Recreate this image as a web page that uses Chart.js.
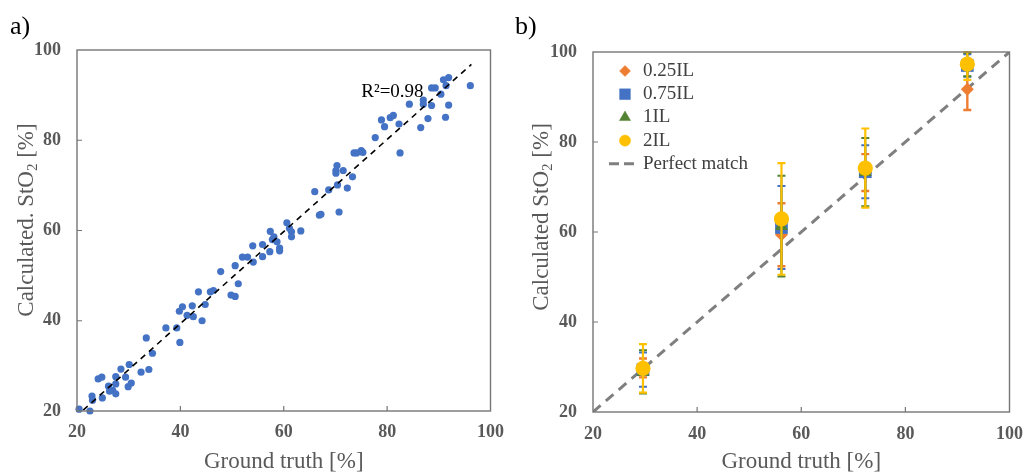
<!DOCTYPE html>
<html>
<head>
<meta charset="utf-8">
<script src="https://cdn.jsdelivr.net/npm/chart.js@4.4.0/dist/chart.umd.min.js"></script>
<style>
  html, body { margin: 0; padding: 0; background: #fff; }
  #wrap { position: relative; width: 1035px; height: 473px; overflow: hidden; }
  .panel { position: absolute; top: 0; }
  #pa { left: 0; }
  #pb { left: 515px; }
</style>
</head>
<body>
<div id="wrap">
  <div class="panel" id="pa"><canvas id="ca" width="515" height="473"></canvas></div>
  <div class="panel" id="pb"><canvas id="cb" width="520" height="473"></canvas></div>
</div>
<script>
// ---------- Panel a: calculated vs. ground-truth StO2 ----------
const groundTruth = [
  20.4, 22.5, 22.9, 23.0, 24.1, 24.8, 24.9, 26.1, 26.3, 26.9, 27.5, 27.5, 27.5, 28.5, 29.4, 30.1, 29.9, 30.5,
  32.4, 33.4, 33.9, 34.6, 37.2, 39.3, 39.9, 39.8, 40.4, 41.3, 42.3, 42.5, 43.5, 44.2, 44.8, 45.8, 46.4,
  47.8, 49.8, 50.6, 50.6, 51.2, 52.0, 53.0, 54.0, 54.1, 55.9, 55.9, 57.3, 57.4, 58.1, 57.8, 58.7, 59.2,
  59.2, 60.6, 61.1, 61.5, 61.5, 63.3, 66.0, 66.9, 67.2, 68.7, 70.3, 70.1, 70.1, 70.4, 70.7, 71.5, 72.3,
  73.3, 73.6, 74.1, 75.0, 75.3, 77.7, 78.9, 79.5, 80.6, 81.2, 82.3, 82.5, 84.3, 86.5, 87.0, 87.0, 87.9,
  88.6, 88.6, 89.3, 90.4, 90.9, 91.3, 91.4, 91.9, 91.9, 96.1
];
const calculated = [
  20.4, 20.0, 23.3, 22.4, 27.1, 27.5, 22.9, 25.5, 24.4, 24.6, 27.6, 26.0, 23.8, 29.3, 27.5, 30.3, 25.4, 26.2,
  28.6, 36.2, 29.2, 32.8, 38.4, 38.4, 35.2, 42.1, 43.1, 41.2, 43.3, 40.9, 46.4, 40.0, 43.6, 46.4, 46.7,
  50.9, 45.7, 45.4, 52.2, 48.2, 54.1, 54.1, 56.6, 53.0, 56.9, 54.2, 55.3, 59.8, 58.6, 58.0, 57.5, 56.1,
  55.5, 61.7, 60.5, 59.7, 58.6, 59.9, 68.6, 63.4, 63.6, 69.0, 74.4, 73.3, 72.7, 70.1, 64.1, 73.3, 69.4,
  71.9, 77.2, 77.2, 77.7, 77.3, 80.6, 84.5, 83.0, 85.0, 85.5, 83.6, 77.2, 88.0, 82.8, 88.9, 88.0, 84.8,
  91.6, 87.7, 91.6, 90.2, 93.4, 85.1, 92.1, 93.9, 87.8, 92.1
];
// linear fit end points
const fitX = [21.2, 96.3];
const fitY = [20.2, 96.8];
const fitLabel = 'R\u00B2=0.98';

// ---------- Panel b: mean ± SD per illumination level ----------
const gtLevels = [29.6, 56.2, 72.3, 91.9];
const il025Mean = [29.8, 59.4, 73.2, 91.7];
const il025Sd   = [2.1, 7.0, 4.1, 4.6];
const il075Mean = [29.4, 61.0, 73.4, 97.0];
const il075Sd   = [3.8, 9.2, 5.9, 2.5];
const il1Mean   = [28.9, 61.3, 73.3, 97.2];
const il1Sd     = [4.8, 11.2, 7.6, 2.6];
const il2Mean   = [29.7, 62.9, 74.2, 97.3];
const il2Sd     = [5.4, 12.4, 8.8, 3.5];
const perfectX  = [20, 100];
const perfectY  = [20, 100];

const axisMin = 20, axisMax = 100, axisStep = 20;

const SERIF = "'Liberation Serif', 'Times New Roman', serif";
const TICK_COLOR = '#595959';
const TITLE_COLOR = '#595959';
const FRAME_COLOR = '#767676';
const BLUE = '#4472C4', ORANGE = '#ED7D31', GREEN = '#548235', YELLOW = '#FFC000', GREY = '#7F7F7F';

const toPoints = (xs, ys) => xs.map((x, i) => ({ x: x, y: ys[i] }));

// Frame around the plot area, inward tick marks, rotated y title with subscript, panel letter
const decorPlugin = {
  id: 'decor',
  afterDraw(chart, args, o) {
    const ctx = chart.ctx;
    const a = chart.chartArea;
    const xs = chart.scales.x, ys = chart.scales.y;
    ctx.save();
    ctx.strokeStyle = FRAME_COLOR;
    ctx.lineWidth = 1.4;
    ctx.strokeRect(a.left, a.top, a.right - a.left, a.bottom - a.top);
    ctx.lineWidth = 1.2;
    ctx.beginPath();
    for (let v = axisMin + axisStep; v < axisMax; v += axisStep) {
      const px = xs.getPixelForValue(v);
      ctx.moveTo(px, a.bottom); ctx.lineTo(px, a.bottom - 5);
      const py = ys.getPixelForValue(v);
      ctx.moveTo(a.left, py); ctx.lineTo(a.left + 5, py);
    }
    ctx.stroke();

    // y axis title
    const parts = o.yTitle;
    ctx.translate(o.yTitleX, o.yTitleY);
    ctx.rotate(-Math.PI / 2);
    ctx.fillStyle = TITLE_COLOR;
    ctx.textBaseline = 'middle';
    ctx.textAlign = 'left';
    let total = 0;
    const widths = parts.map(p => {
      ctx.font = (p.sub ? '15px ' : '23px ') + SERIF;
      const w = ctx.measureText(p.t).width;
      total += w;
      return w;
    });
    let x = -total / 2;
    parts.forEach((p, i) => {
      ctx.font = (p.sub ? '15px ' : '23px ') + SERIF;
      ctx.fillText(p.t, x, p.sub ? 6 : 0);
      x += widths[i];
    });
    ctx.setTransform(1, 0, 0, 1, 0, 0);

    // panel letter
    ctx.fillStyle = '#000';
    ctx.font = '26px ' + SERIF;
    ctx.textBaseline = 'middle';
    ctx.textAlign = 'left';
    ctx.fillText(o.letter, o.letterX, 27);

    // optional annotation in data coordinates
    if (o.note) {
      ctx.font = '19px ' + SERIF;
      ctx.fillStyle = '#000';
      ctx.fillText(o.note.text, xs.getPixelForValue(o.note.x), ys.getPixelForValue(o.note.y));
    }
    ctx.restore();
  }
};

// Vertical error bars drawn just before each dataset's markers
const errorBarPlugin = {
  id: 'errorBars',
  beforeDatasetDraw(chart, args) {
    const ds = chart.data.datasets[args.index];
    if (!ds.sd) return;
    const ctx = chart.ctx;
    const xs = chart.scales.x, ys = chart.scales.y;
    ctx.save();
    ctx.strokeStyle = ds.borderColor;
    ctx.lineWidth = ds.errWidth || 2;
    ds.data.forEach((p, i) => {
      const e = ds.sd[i];
      const px = xs.getPixelForValue(p.x);
      const top = ys.getPixelForValue(Math.min(p.y + e, ys.max));
      const bot = ys.getPixelForValue(Math.max(p.y - e, ys.min));
      ctx.beginPath();
      ctx.moveTo(px, top); ctx.lineTo(px, bot);
      ctx.moveTo(px - 4, top); ctx.lineTo(px + 4, top);
      ctx.moveTo(px - 4, bot); ctx.lineTo(px + 4, bot);
      ctx.stroke();
    });
    ctx.restore();
  }
};

// Legend drawn inside the plot area (top-left)
const insideLegendPlugin = {
  id: 'insideLegend',
  afterDraw(chart, args, o) {
    if (!o.show) return;
    const ctx = chart.ctx;
    const a = chart.chartArea;
    const mx = a.left + 32, tx = a.left + 50;
    let y = a.top + 19;
    ctx.save();
    chart.data.datasets.forEach(ds => {
      if (ds.showLine) {
        ctx.strokeStyle = ds.borderColor;
        ctx.lineWidth = 3;
        ctx.setLineDash([10, 5]);
        ctx.beginPath();
        ctx.moveTo(mx - 16, y); ctx.lineTo(mx + 9, y);
        ctx.stroke();
        ctx.setLineDash([]);
      } else {
        ctx.fillStyle = ds.backgroundColor;
        ctx.strokeStyle = ds.backgroundColor;
        ctx.lineWidth = 0.5;
        Chart.helpers.drawPoint(ctx, { pointStyle: ds.pointStyle, radius: ds.legendRadius, rotation: 0, borderWidth: 0.5 }, mx, y);
      }
      ctx.fillStyle = '#404040';
      ctx.font = '19px ' + SERIF;
      ctx.textAlign = 'left';
      ctx.textBaseline = 'middle';
      ctx.fillText(ds.label, tx, y);
      y += 23.2;
    });
    ctx.restore();
  }
};

function axis(pos, title, size, pad, titlePadBottom) {
  return {
    type: 'linear', position: pos, min: axisMin, max: axisMax,
    ticks: { stepSize: axisStep, padding: pad, color: TICK_COLOR, font: { family: SERIF, size: 18, weight: 'bold' } },
    grid: { display: false, drawTicks: false },
    border: { display: false },
    title: title ? { display: true, text: title, color: TITLE_COLOR, font: { family: SERIF, size: 23, lineHeight: 1 }, padding: { top: 0, bottom: titlePadBottom } } : { display: false },
    afterFit(s) { if (pos === 'bottom') s.height = size; else s.width = size; }
  };
}

// ---------- chart a ----------
new Chart(document.getElementById('ca'), {
  type: 'scatter',
  data: {
    datasets: [
      {
        label: 'Fit', data: toPoints(fitX, fitY), showLine: true, borderColor: '#000', borderWidth: 1.6,
        borderDash: [6, 5], pointRadius: 0, fill: false, order: 0
      },
      {
        label: 'StO2', data: toPoints(groundTruth, calculated), backgroundColor: BLUE, borderColor: BLUE,
        pointRadius: 3.6, pointHoverRadius: 3.6, borderWidth: 0, clip: false, order: 1
      }
    ]
  },
  options: {
    responsive: false, animation: false, devicePixelRatio: 1, events: [],
    layout: { padding: { top: 50, right: 17, left: 0, bottom: 0 } },
    plugins: {
      legend: { display: false }, tooltip: { enabled: false },
      decor: {
        yTitle: [{ t: 'Calculated. StO' }, { t: '2', sub: true }, { t: ' [%]' }],
        yTitleX: 27, yTitleY: 220, letter: 'a)', letterX: 10,
        note: { text: fitLabel, x: 75.0, y: 90.7 }
      }
    },
    scales: {
      x: axis('bottom', 'Ground truth [%]', 62, 11, 0),
      y: axis('left', null, 77, 16, 0)
    }
  },
  plugins: [decorPlugin]
});

// ---------- chart b ----------
new Chart(document.getElementById('cb'), {
  type: 'scatter',
  data: {
    datasets: [
      { label: '0.25IL', data: toPoints(gtLevels, il025Mean), sd: il025Sd, pointStyle: 'rectRot', pointRadius: 6.5, legendRadius: 5.5,
        backgroundColor: ORANGE, borderColor: ORANGE, borderWidth: 0, errWidth: 2.4, clip: false, order: 4 },
      { label: '0.75IL', data: toPoints(gtLevels, il075Mean), sd: il075Sd, pointStyle: 'rect', pointRadius: 9, legendRadius: 7.6,
        backgroundColor: BLUE, borderColor: BLUE, borderWidth: 0, errWidth: 2, clip: false, order: 3 },
      { label: '1IL', data: toPoints(gtLevels, il1Mean), sd: il1Sd, pointStyle: 'triangle', pointRadius: 7.5, legendRadius: 6.4,
        backgroundColor: GREEN, borderColor: GREEN, borderWidth: 0, errWidth: 2, clip: false, order: 2 },
      { label: '2IL', data: toPoints(gtLevels, il2Mean), sd: il2Sd, pointStyle: 'circle', pointRadius: 7.6, legendRadius: 5.6,
        backgroundColor: YELLOW, borderColor: YELLOW, borderWidth: 0, errWidth: 2.2, clip: false, order: 1 },
      { label: 'Perfect match', data: toPoints(perfectX, perfectY), showLine: true, borderColor: GREY, borderWidth: 3,
        borderDash: [10, 7], pointRadius: 0, fill: false, order: 5 }
    ]
  },
  options: {
    responsive: false, animation: false, devicePixelRatio: 1, events: [],
    layout: { padding: { top: 52, right: 16, left: 0, bottom: 0 } },
    plugins: {
      legend: { display: false }, tooltip: { enabled: false },
      insideLegend: { show: true },
      decor: {
        yTitle: [{ t: 'Calculated StO' }, { t: '2', sub: true }, { t: ' [%]' }],
        yTitleX: 27, yTitleY: 217, letter: 'b)', letterX: 0
      }
    },
    scales: {
      x: axis('bottom', 'Ground truth [%]', 61, 12, 0),
      y: axis('left', null, 78, 16, 0)
    }
  },
  plugins: [errorBarPlugin, decorPlugin, insideLegendPlugin]
});
</script>
</body>
</html>
